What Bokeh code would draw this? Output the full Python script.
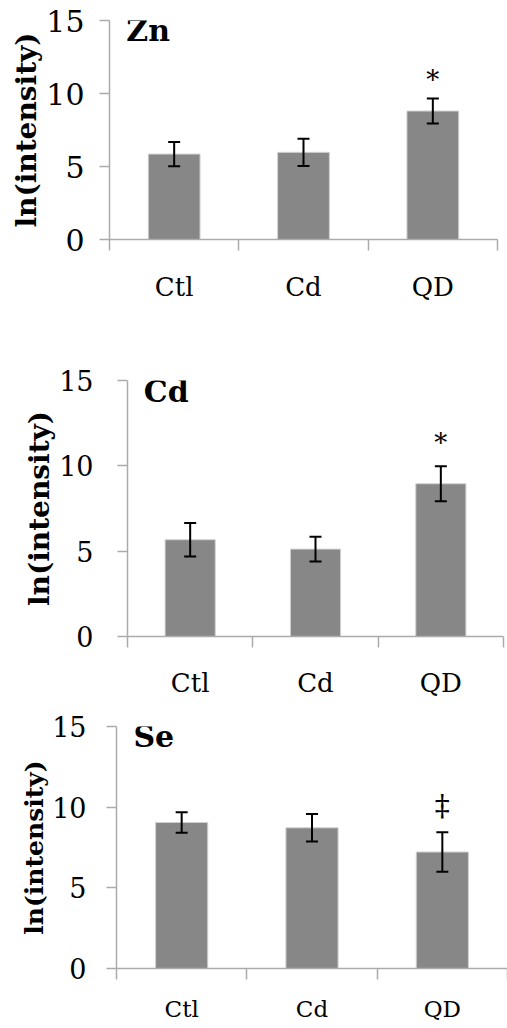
from bokeh.plotting import figure
from bokeh.models import (ColumnDataSource, Range1d, FixedTicker, Whisker, TeeHead, Label)
from bokeh.embed import file_html
from bokeh.resources import INLINE

categories = ["Ctl", "Cd", "QD"]
y_ticks = [0, 5, 10, 15]

zn_mean = [5.85, 5.97, 8.80]
zn_err = [0.83, 0.93, 0.85]
zn_sig = ["", "", "*"]

cd_mean = [5.67, 5.12, 8.95]
cd_err = [0.98, 0.72, 1.02]
cd_sig = ["", "", "*"]

se_mean = [9.05, 8.72, 7.22]
se_err = [0.63, 0.85, 1.22]
se_sig = ["", "", "\u2021"]

AXIS_COLOR = "#ababab"
BAR_COLOR = "#878787"


def panel(title, mean, err, sig, fw, fh, left, right, top, bottom,
          tick_size, xlab_size, ylab_size, title_y, xlab_standoff, ytick_standoff,
          sig_offset, sig_size):
    xs = [i + 0.5 for i in range(len(categories))]
    src = ColumnDataSource(dict(
        x=xs, top=mean,
        upper=[m + e for m, e in zip(mean, err)],
        lower=[m - e for m, e in zip(mean, err)],
        sig=sig,
    ))
    p = figure(frame_width=fw, frame_height=fh, min_border_left=left,
               min_border_right=right, min_border_top=top, min_border_bottom=bottom,
               x_range=Range1d(0, len(categories)), y_range=Range1d(0, 15),
               output_backend="svg", toolbar_location=None)
    p.outline_line_color = None
    p.xgrid.visible = False
    p.ygrid.visible = False
    p.background_fill_color = "white"
    p.border_fill_color = "white"

    p.vbar(x="x", top="top", width=0.4, bottom=0, source=src,
           fill_color=BAR_COLOR, line_color="#d0d0d0", line_width=1)
    w = Whisker(base="x", upper="upper", lower="lower", source=src,
                line_color="black", line_width=2, level="overlay",
                upper_head=TeeHead(size=12, line_color="black", line_width=2),
                lower_head=TeeHead(size=12, line_color="black", line_width=2))
    p.add_layout(w)
    p.text(x="x", y="upper", text="sig", source=src, text_align="center",
           text_baseline="middle", y_offset=sig_offset,
           text_font_size=sig_size, text_color="black",
           text_font={"value": "DejaVu Serif"})

    # x axis
    xa = p.xaxis[0]
    xa.ticker = FixedTicker(ticks=xs, minor_ticks=list(range(len(categories) + 1)))
    xa.major_label_overrides = {x: c for x, c in zip(xs, categories)}
    xa.major_tick_line_color = None
    xa.major_tick_out = 0
    xa.major_tick_in = 0
    xa.minor_tick_out = 11
    xa.minor_tick_in = 0
    xa.minor_tick_line_color = AXIS_COLOR
    xa.minor_tick_line_width = 1.5
    xa.axis_line_color = AXIS_COLOR
    xa.axis_line_width = 1.5
    xa.major_label_text_font = "DejaVu Serif"
    xa.major_label_text_font_size = xlab_size
    xa.major_label_text_color = "black"
    xa.major_label_standoff = xlab_standoff

    # y axis
    ya = p.yaxis[0]
    ya.ticker = FixedTicker(ticks=y_ticks)
    ya.major_tick_out = 10
    ya.major_tick_in = 0
    ya.major_tick_line_color = AXIS_COLOR
    ya.major_tick_line_width = 1.5
    ya.minor_tick_line_color = None
    ya.axis_line_color = AXIS_COLOR
    ya.axis_line_width = 1.5
    ya.major_label_text_font = "DejaVu Serif"
    ya.major_label_text_font_size = tick_size
    ya.major_label_text_color = "black"
    ya.major_label_standoff = ytick_standoff
    ya.axis_label = "ln(intensity)"
    ya.axis_label_text_font = "DejaVu Serif"
    ya.axis_label_text_font_style = "bold"
    ya.axis_label_text_font_size = ylab_size
    ya.axis_label_text_color = "black"
    ya.axis_label_standoff = 0

    p.add_layout(Label(x=0.13, y=title_y, text=title, text_font="DejaVu Serif",
                       text_font_style="bold", text_font_size="30px",
                       text_color="black", text_baseline="alphabetic"))
    return p


p1 = panel("Zn", zn_mean, zn_err, zn_sig, 388, 219, 109, 10, 20, 101,
           "30px", "26px", "28px", 14.3, 21, 15, -19, "26px")
p2 = panel("Cd", cd_mean, cd_err, cd_sig, 376, 256, 127, 4, 40, 64,
           "27px", "26px", "28px", 14.35, 20, 24, -23, "26px")
p3 = panel("Se", se_mean, se_err, se_sig, 391, 242, 116, 0, 26, 57,
           "27px", "23px", "25px", 14.35, 16, 20, -27, "30px")

open("out.html", "w").write(file_html([p1, p2, p3], INLINE))
